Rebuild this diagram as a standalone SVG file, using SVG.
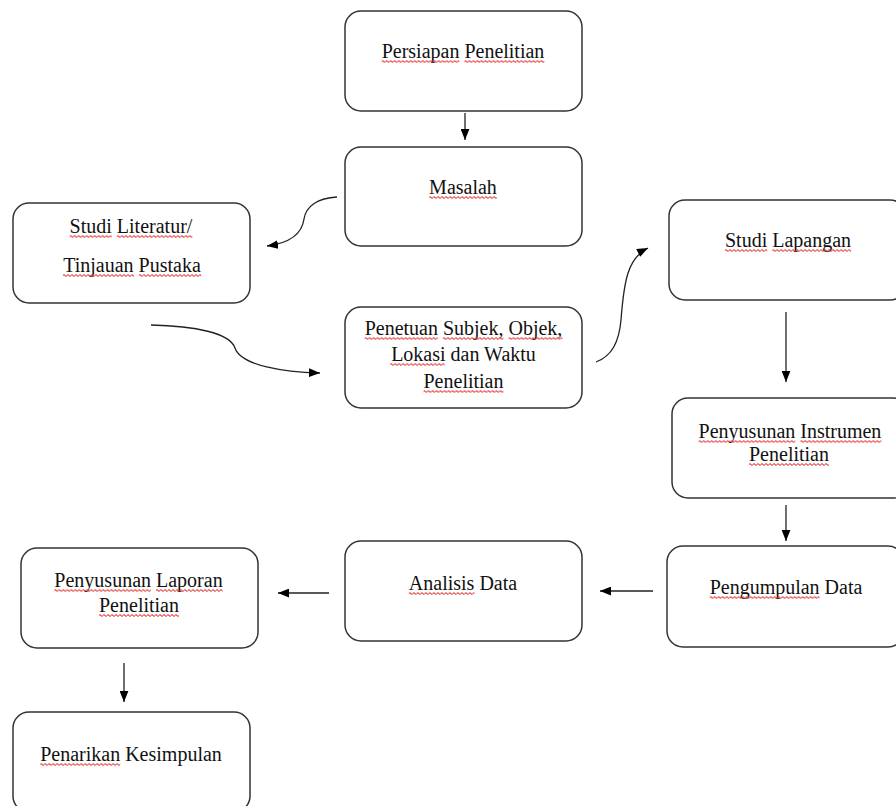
<svg xmlns="http://www.w3.org/2000/svg" width="896" height="806" viewBox="0 0 896 806">
  <defs>
    <marker id="ah" viewBox="0 0 10 8" refX="10" refY="4" markerWidth="11" markerHeight="9" markerUnits="userSpaceOnUse" orient="auto">
      <path d="M0,0 L10,4 L0,8 z" fill="#000"/>
    </marker>
    <pattern id="sq" patternUnits="userSpaceOnUse" width="4" height="3">
      <path d="M0,1.5 Q1,0 2,1.5 T4,1.5" fill="none" stroke="#e52b2b" stroke-width="1.1"/>
    </pattern>
  </defs>
  <style>
    .box{fill:#fff;stroke:#333;stroke-width:1.5}
    .t{font-family:"Liberation Serif","Times New Roman",serif;font-size:20px;fill:#111;text-anchor:middle}
    .sq{fill:url(#sq)}
    .c{fill:none;stroke:#222;stroke-width:1.3;marker-end:url(#ah)}
  </style>
  <rect width="896" height="806" fill="#fff"/>

  <g id="connectors">
    <path class="c" d="M465,113 L465,140"/>
    <path class="c" d="M337,197 C318,198 306,206 304,219 C302,234 290,243 267,246"/>
    <path class="c" d="M151,325 C195,326 230,333 235,348 C241,366 285,372 320,373"/>
    <path class="c" d="M596,362 C612,356 619,342 621,320 C624,280 628,258 648,248"/>
    <path class="c" d="M786,312 L786,382"/>
    <path class="c" d="M786,505 L786,541"/>
    <path class="c" d="M653,591 L600,591"/>
    <path class="c" d="M329,593 L278,593"/>
    <path class="c" d="M124,663 L124,702"/>
  </g>

  <g id="persiapan">
    <rect class="box" x="345" y="11" width="237" height="100" rx="16"/>
    <text class="t" x="463" y="58">Persiapan Penelitian</text>
    <rect class="sq" width="77.8" height="3" transform="translate(381.6,60)"/>
    <rect class="sq" width="80" height="3" transform="translate(464.4,60)"/>
  </g>

  <g id="masalah">
    <rect class="box" x="345" y="147" width="237" height="99" rx="16"/>
    <text class="t" x="463" y="194">Masalah</text>
    <rect class="sq" width="67.8" height="3" transform="translate(429.1,196)"/>
  </g>

  <g id="studi-literatur">
    <rect class="box" x="13" y="203" width="237" height="100" rx="16"/>
    <text class="t" x="131" y="233">Studi Literatur/</text>
    <text class="t" x="132" y="272">Tinjauan Pustaka</text>
    <rect class="sq" width="42.2" height="3" transform="translate(69.6,235)"/>
    <rect class="sq" width="75.6" height="3" transform="translate(116.8,235)"/>
    <rect class="sq" width="71.1" height="3" transform="translate(62.9,274)"/>
    <rect class="sq" width="62.2" height="3" transform="translate(139,274)"/>
  </g>

  <g id="penetuan">
    <rect class="box" x="345" y="307" width="237" height="101" rx="16"/>
    <text class="t" x="463.5" y="335">Penetuan Subjek, Objek,</text>
    <text class="t" x="463.5" y="361">Lokasi dan Waktu</text>
    <text class="t" x="463.5" y="388">Penelitian</text>
    <rect class="sq" width="73.3" height="3" transform="translate(364.6,337)"/>
    <rect class="sq" width="60.6" height="3" transform="translate(442.9,337)"/>
    <rect class="sq" width="53.9" height="3" transform="translate(508.5,337)"/>
    <rect class="sq" width="54.4" height="3" transform="translate(390.2,363)"/>
    <rect class="sq" width="80" height="3" transform="translate(423.5,390)"/>
  </g>

  <g id="studi-lapangan">
    <rect class="box" x="669" y="200" width="237" height="100" rx="16"/>
    <text class="t" x="788" y="247">Studi Lapangan</text>
    <rect class="sq" width="42.2" height="3" transform="translate(725,249)"/>
    <rect class="sq" width="78.9" height="3" transform="translate(772.2,249)"/>
  </g>

  <g id="penyusunan-instrumen">
    <rect class="box" x="672" y="398" width="237" height="100" rx="16"/>
    <text class="t" x="790" y="438">Penyusunan Instrumen</text>
    <text class="t" x="789" y="461">Penelitian</text>
    <rect class="sq" width="96.7" height="3" transform="translate(698.6,440)"/>
    <rect class="sq" width="81.1" height="3" transform="translate(800.3,440)"/>
    <rect class="sq" width="80" height="3" transform="translate(749,463)"/>
  </g>

  <g id="pengumpulan">
    <rect class="box" x="667" y="546" width="237" height="101" rx="16"/>
    <text class="t" x="786" y="594">Pengumpulan Data</text>
    <rect class="sq" width="110" height="3" transform="translate(709.6,596)"/>
  </g>

  <g id="analisis">
    <rect class="box" x="345" y="541" width="237" height="100" rx="16"/>
    <text class="t" x="463" y="590">Analisis Data</text>
    <rect class="sq" width="65.6" height="3" transform="translate(408.8,592)"/>
  </g>

  <g id="penyusunan-laporan">
    <rect class="box" x="21" y="548" width="237" height="100" rx="16"/>
    <text class="t" x="138.5" y="587">Penyusunan Laporan</text>
    <text class="t" x="139" y="612">Penelitian</text>
    <rect class="sq" width="96.7" height="3" transform="translate(54.3,589)"/>
    <rect class="sq" width="66.6" height="3" transform="translate(156,589)"/>
    <rect class="sq" width="80" height="3" transform="translate(99,614)"/>
  </g>

  <g id="penarikan">
    <rect class="box" x="13" y="712" width="237" height="100" rx="16"/>
    <text class="t" x="131" y="761">Penarikan Kesimpulan</text>
    <rect class="sq" width="80" height="3" transform="translate(40.2,763)"/>
  </g>
</svg>
